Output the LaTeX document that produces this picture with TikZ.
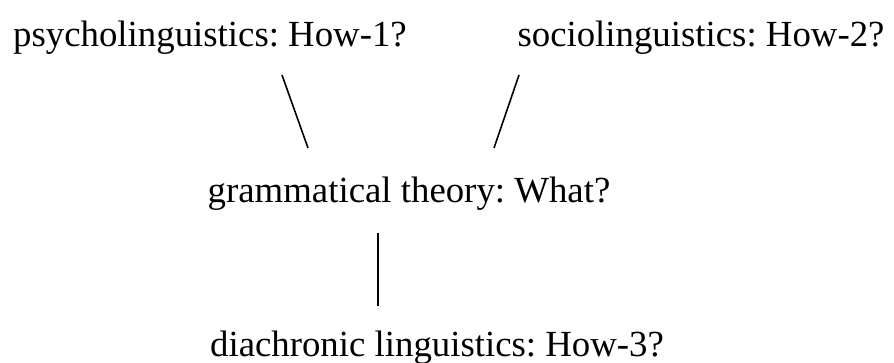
\documentclass[tikz,border=0pt]{standalone}
\usepackage{fontspec}
\setmainfont{Liberation Serif}
\usetikzlibrary{positioning,calc}
\frenchspacing
\tikzstyle{field}=[inner sep=0pt, anchor=base, font=\fontsize{18.4}{22}\selectfont]
\tikzstyle{link}=[line width=0.8pt]

\begin{document}
\begin{tikzpicture}[x=0.5pt,y=-0.5pt]
  \useasboundingbox (0,0) rectangle (894,363);

  % the four fields
  \node[field] (psy) at (210,47) {psycholinguistics: How-1?};
  \node[field] (soc) at (701,47) {sociolinguistics: How-2?};
  \node[field] (gram) at (409,203) {grammatical theory: What?};
  \node[field] (dia) at (437,356) {diachronic linguistics: How-3?};

  % line ends
  \coordinate (psy-foot) at (282,75);
  \coordinate (soc-foot) at (519,75);
  \coordinate (gram-left) at (308,148);
  \coordinate (gram-right) at (494,148);
  \coordinate (gram-foot) at (378,233);
  \coordinate (dia-top) at (378,306);

  \draw[link] (psy-foot) -- (gram-left);
  \draw[link] (soc-foot) -- (gram-right);
  \draw[link] (gram-foot) -- (dia-top);
\end{tikzpicture}
\end{document}
